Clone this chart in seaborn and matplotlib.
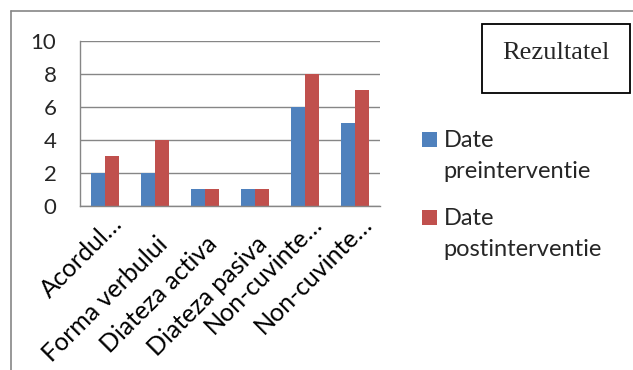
import matplotlib
matplotlib.use("Agg")
import matplotlib.pyplot as plt
import matplotlib.transforms as mtransforms
import seaborn as sns
import pandas as pd
from matplotlib.lines import Line2D
from matplotlib.patches import Rectangle

categories = ["Acordul…", "Forma verbului", "Diateza activa", "Diateza pasiva", "Non-cuvinte…", "Non-cuvinte…"]
cat_keys = ["c1", "c2", "c3", "c4", "c5", "c6"]
pre_values = [2, 2, 1, 1, 6, 5]
post_values = [3, 4, 1, 1, 8, 7]
series_names = ["Date\npreinterventie", "Date\npostinterventie"]
y_ticks = [0, 2, 4, 6, 8, 10]
box_title = "Rezultatel"

df = pd.DataFrame({
    "cat": cat_keys * 2,
    "val": pre_values + post_values,
    "series": [series_names[0]] * 6 + [series_names[1]] * 6,
})

sns.set_style("white")
plt.rcParams['font.family'] = ['Lato', 'DejaVu Sans']

W, H = 633, 370
fig = plt.figure(figsize=(W / 100, H / 100), dpi=100)
ax = fig.add_axes([80 / W, 1 - 205.5 / H, 300 / W, 164.5 / H])

palette = {series_names[0]: "#4F81BD", series_names[1]: "#C0504D"}
sns.barplot(data=df, x="cat", y="val", hue="series", palette=palette,
            width=0.56, linewidth=0, saturation=1, ax=ax, legend=True, errorbar=None)

ax.set_ylim(0, 10)
ax.set_xlim(-0.5, 5.5)
ax.set_yticks(y_ticks)
ax.set_yticklabels([str(t) for t in y_ticks], fontsize=16)
ax.yaxis.grid(True, color="#868686", linewidth=1)
ax.set_axisbelow(True)
ax.set_xlabel("")
ax.set_ylabel("")
for s in ["top", "right"]:
    ax.spines[s].set_visible(False)
for s in ["left", "bottom"]:
    ax.spines[s].set_color("#868686")
    ax.spines[s].set_linewidth(1)

# category labels (rotated), ticks at category boundaries
ax.set_xticks(range(len(categories)))
ax.set_xticklabels([])
ax.tick_params(axis="x", which="major", length=0)
ax.set_xticks([i - 0.5 for i in range(len(categories) + 1)], minor=True)
ax.tick_params(axis="x", which="minor", length=5.5, color="#868686", width=1, direction="out")
ax.tick_params(axis="y", length=6, color="#868686", width=1, direction="out", pad=11)

xt = ax.get_xaxis_transform()
for i, lab in enumerate(categories):
    truncated = lab.endswith("…")
    dx_px = 19 if truncated else 14
    dy_px = 20 if truncated else 40
    off = mtransforms.ScaledTranslation(dx_px / 100, -dy_px / 100, fig.dpi_scale_trans)
    ax.text(i, 0, lab, transform=xt + off, rotation=45, rotation_mode="anchor",
            ha="right", va="baseline", fontsize=18, color="black")

# legend
h, l = ax.get_legend_handles_labels()
ax.legend_.remove()
leg = fig.legend(h, l, loc="upper left", bbox_to_anchor=(422 / W, 1 - 130 / H),
                 frameon=False, fontsize=17, handlelength=0.62, handleheight=0.62,
                 handletextpad=0.3, labelspacing=1.1, borderaxespad=0, borderpad=0)
for t in leg.get_texts():
    t.set_linespacing(1.6)
for p in leg.legend_handles:
    p.set_y(p.get_y() + 12)

# title-like box
fig.add_artist(Rectangle((482 / W, 1 - 93 / H), 148 / W, 69 / H, transform=fig.transFigure,
                         fill=False, edgecolor="black", linewidth=1.3))
fig.text(556 / W, 1 - 59 / H, box_title, ha="center", va="baseline",
         fontsize=19, family=["Liberation Serif", "DejaVu Serif"])

# outer frame lines
fig.add_artist(Line2D([11 / W, 11 / W], [0, 1 - 11 / H], transform=fig.transFigure, color="#868686", linewidth=1.2))
fig.add_artist(Line2D([11 / W, 1], [1 - 11 / H, 1 - 11 / H], transform=fig.transFigure, color="#868686", linewidth=1.2))

fig.savefig("out.png", dpi=100)
